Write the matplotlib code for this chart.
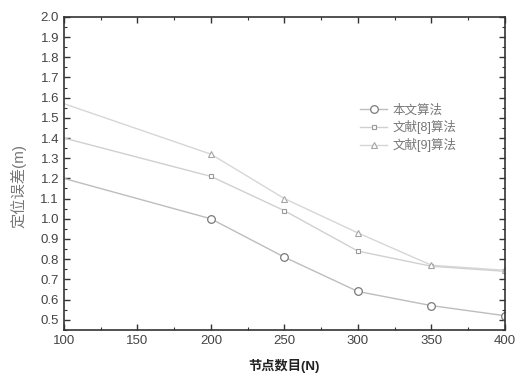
import numpy as np
import matplotlib.pyplot as plt
from matplotlib.ticker import MultipleLocator

plt.rcParams['font.family'] = ['Liberation Sans', 'Noto Sans CJK SC', 'DejaVu Sans']

# datos
nodos = [100, 200, 250, 300, 350, 400]
err_propio = [1.20, 1.00, 0.81, 0.64, 0.57, 0.52]
err_ref8 = [1.40, 1.21, 1.04, 0.84, 0.765, 0.74]
err_ref9 = [1.57, 1.32, 1.10, 0.93, 0.77, 0.745]
etiquetas = ['本文算法', '文献[8]算法', '文献[9]算法']

fig = plt.figure(figsize=(5.19, 3.74), dpi=100)
ax = fig.add_axes([0.123, 0.118, 0.850, 0.837])

# en la figura original no se ven marcadores en x=100
marcas = list(range(1, len(nodos)))
ax.plot(nodos, err_propio, '-o', color='#bdbdbd', lw=1.0, ms=5.5, markevery=marcas,
        mfc='white', mec='#7a7a7a', mew=0.9, label=etiquetas[0])
ax.plot(nodos, err_ref8, '-s', color='#d0d0d0', lw=1.0, ms=3.5, markevery=marcas,
        mfc='white', mec='#9a9a9a', mew=0.8, label=etiquetas[1])
ax.plot(nodos, err_ref9, '-^', color='#d6d6d6', lw=1.0, ms=4.5, markevery=marcas,
        mfc='white', mec='#a5a5a5', mew=0.8, label=etiquetas[2])

ax.set_xlim(100, 400)
ax.set_ylim(0.45, 2.0)
ax.xaxis.set_major_locator(MultipleLocator(50))
ax.xaxis.set_minor_locator(MultipleLocator(25))
ax.yaxis.set_minor_locator(MultipleLocator(0.05))
ax.set_yticks(np.arange(0.5, 2.01, 0.1))
ax.tick_params(which='both', direction='in', top=True, right=True,
               colors='#333333', labelcolor='#444444', labelsize=9.5)
ax.tick_params(which='major', length=4, width=1.0)
ax.tick_params(which='minor', length=2.5, width=0.8)
for s in ax.spines.values():
    s.set_color('#333333')
    s.set_linewidth(1.2)

ax.set_xlabel('节点数目(N)', fontsize=9.5, fontweight='bold', color='#222222', labelpad=9)
ax.set_ylabel('定位误差(m)', fontsize=11, color='#777777', labelpad=4)
ax.yaxis.set_label_coords(-0.085, 0.46)

ax.legend(loc='upper left', bbox_to_anchor=(0.671, 0.72), frameon=False,
          borderpad=0, borderaxespad=0,
          fontsize=9, labelcolor='#777777', handlelength=2.2,
          handletextpad=0.4, labelspacing=0.3)

plt.savefig('out.png', dpi=100)
